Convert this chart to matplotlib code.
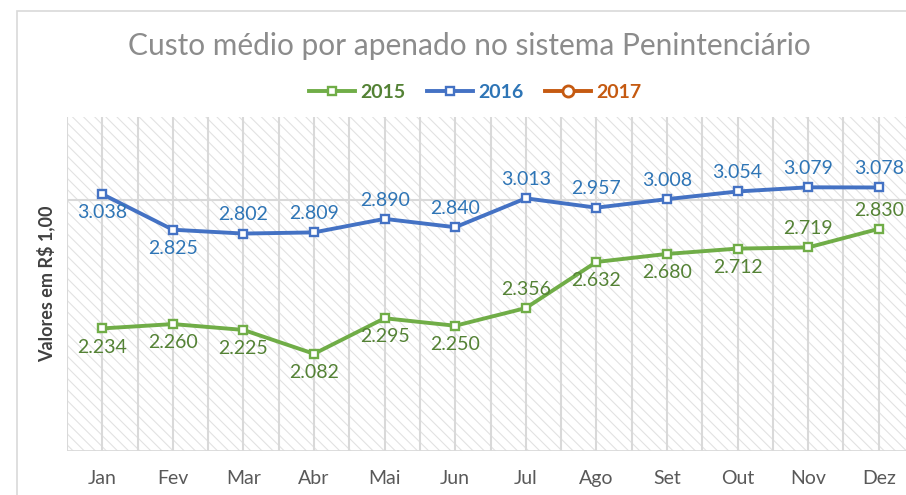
import matplotlib
matplotlib.use("Agg")
from matplotlib import pyplot as plt
from matplotlib.patches import Rectangle
from matplotlib.lines import Line2D

meses = ["Jan", "Fev", "Mar", "Abr", "Mai", "Jun", "Jul", "Ago", "Set", "Out", "Nov", "Dez"]
custo_2015 = [2234, 2260, 2225, 2082, 2295, 2250, 2356, 2632, 2680, 2712, 2719, 2830]
custo_2016 = [3038, 2825, 2802, 2809, 2890, 2840, 3013, 2957, 3008, 3054, 3079, 3078]
# rotulo acima (+1) ou abaixo (-1) do ponto
pos_2015 = [-1, -1, -1, -1, -1, -1, 1, -1, -1, -1, 1, 1]
pos_2016 = [-1, -1, 1, 1, 1, 1, 1, 1, 1, 1, 1, 1]

plt.rcParams['font.family'] = ['Lato', 'DejaVu Sans']
plt.rcParams['hatch.linewidth'] = 0.8

W, H = 906, 495
fig = plt.figure(figsize=(W / 100, H / 100), dpi=100)

# moldura da area do grafico
fig.patches.append(Rectangle((17 / W, -0.1), 1.2, 1 - 11 / H + 0.1, transform=fig.transFigure,
                             fill=False, edgecolor="#D9D9D9", lw=1.2))

x0, x1, ytop, ybot = 67, 914, 117, 451
ax = fig.add_axes([x0 / W, 1 - ybot / H, (x1 - x0) / W, (ybot - ytop) / H])
ax.set_facecolor("white")
for s in ax.spines.values():
    s.set_visible(False)

ax.add_patch(Rectangle((0, 0), 1, 1, transform=ax.transAxes, facecolor="white",
                       edgecolor="#E2E2E2", hatch="\\\\\\", lw=0, zorder=0))

ax.set_xlim(-0.5, 11.5)
ax.set_ylim(1500, 3500)

for k in range(25):
    ax.axvline(-0.5 + k * 0.5, color="#D9D9D9", lw=1.5, zorder=1)
ax.axhline(3000, color="#D9D9D9", lw=1.5, zorder=1)
ax.axhline(1500, color="#D9D9D9", lw=2, zorder=1)

x = list(range(len(meses)))
verde, azul, laranja = "#70AD47", "#4472C4", "#C55A11"
ax.plot(x, custo_2015, color=verde, lw=2.8, marker="s", ms=5.5, mfc="white", mec=verde, mew=1.7, zorder=3)
ax.plot(x, custo_2016, color=azul, lw=2.8, marker="s", ms=5.5, mfc="white", mec=azul, mew=1.7, zorder=3)


def fmt(v):
    return f"{v:,}".replace(",", ".")


for xi, v, p in zip(x, custo_2015, pos_2015):
    ax.annotate(fmt(v), (xi, v), xytext=(0, 13.5 * p), textcoords="offset points",
                ha="center", va="center", fontsize=14, color="#548235", zorder=4)
for xi, v, p in zip(x, custo_2016, pos_2016):
    ax.annotate(fmt(v), (xi, v), xytext=(0, 13.5 * p), textcoords="offset points",
                ha="center", va="center", fontsize=14, color="#2E75B6", zorder=4)

ax.set_yticks([])
ax.set_xticks(x)
ax.set_xticklabels(meses, fontsize=14, color="#595959")
ax.tick_params(axis="x", length=0, pad=14)

fig.text(46 / W, 1 - 284 / H, "Valores em R$ 1,00", rotation=90, ha="center", va="center",
         fontsize=13, fontweight="bold", color="#404040")

fig.text(469 / W, 1 - 46 / H, "Custo médio por apenado no sistema Penintenciário",
         ha="center", va="center", fontsize=21.5, color="#8C8C8C")

handles = [
    Line2D([], [], color=verde, lw=2.8, marker="s", ms=5.5, mfc="white", mec=verde, mew=1.7),
    Line2D([], [], color=azul, lw=2.8, marker="s", ms=5.5, mfc="white", mec=azul, mew=1.7),
    Line2D([], [], color=laranja, lw=2.8, marker="o", ms=8, mfc="white", mec=laranja, mew=2),
]
leg = fig.legend(handles, ["2015", "2016", "2017"], loc="center", bbox_to_anchor=(475 / W, 1 - 92 / H),
                 ncol=3, frameon=False, handlelength=2.4, handletextpad=0.25, columnspacing=1.1,
                 prop={"size": 14, "weight": "bold"})
for t, c in zip(leg.get_texts(), ["#548235", "#2E75B6", laranja]):
    t.set_color(c)

fig.savefig("out.png", dpi=100)
